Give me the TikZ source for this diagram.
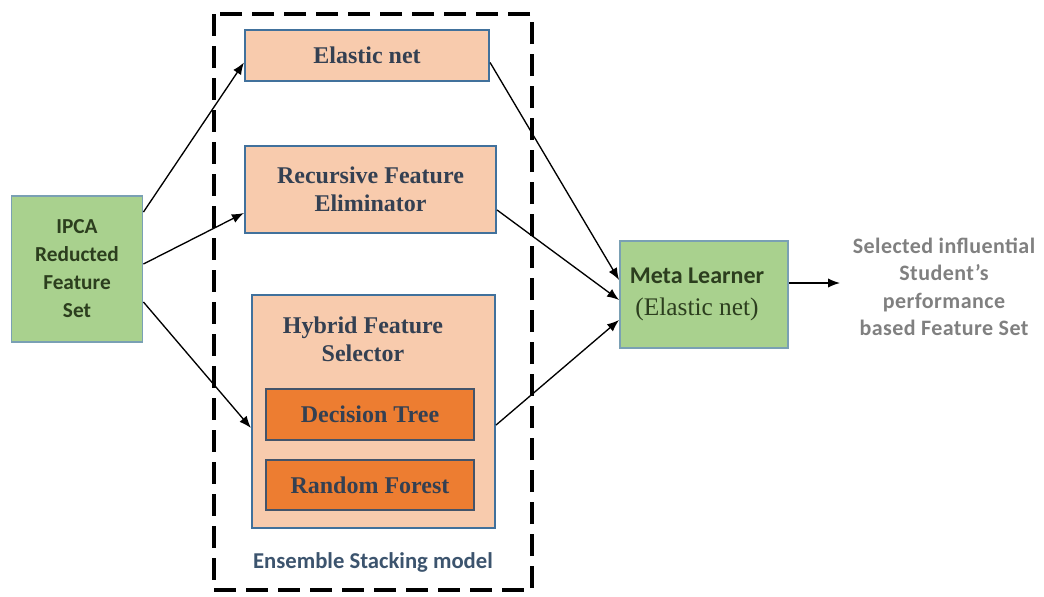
\documentclass[tikz,border=0pt]{standalone}
\usepackage{fontspec}
\setmainfont{Liberation Serif}
\newfontfamily\calib{Carlito}
\usetikzlibrary{arrows.meta,calc}

\definecolor{peach}{RGB}{248,203,173}
\definecolor{deeporange}{RGB}{237,125,49}
\definecolor{leafgreen}{RGB}{169,209,142}
\definecolor{boxblue}{RGB}{65,113,156}
\definecolor{slateline}{RGB}{68,84,106}
\definecolor{greenline}{RGB}{122,160,180}
\definecolor{slatetext}{RGB}{52,64,82}
\definecolor{darkgreen}{RGB}{44,62,30}
\definecolor{labelblue}{RGB}{60,84,110}
\definecolor{outgray}{RGB}{128,128,128}

\begin{document}
\begin{tikzpicture}[x=0.75pt,y=0.75pt,yscale=-1,xscale=1,
	peachbox/.style={draw=boxblue,line width=1.6pt,fill=peach,inner sep=0pt,align=center,text=slatetext,font=\fontsize{18}{21}\selectfont\bfseries},
	orangebox/.style={draw=slateline,line width=2pt,fill=deeporange,inner sep=0pt,align=center,text=slatetext,font=\fontsize{18}{21}\selectfont\bfseries},
	greenbox/.style={draw=greenline,line width=1.4pt,fill=leafgreen,inner sep=0pt,align=center},
	arr/.style={-{Latex[length=9pt,width=7pt]},line width=1pt,black},
	]
	\useasboundingbox (0,0) rectangle (1044,596);
	
	%ensemble frame
	\draw [line width=3pt,dash pattern=on 16.5pt off 7.5pt] (214,14) rectangle (532,590);
	\node [text=labelblue,font=\calib\fontsize{17}{20}\selectfont\bfseries] (ensemble) at (373,562) {Ensemble Stacking model};
	
	\node [greenbox,minimum width=98.25pt,minimum height=109.5pt,text=darkgreen,font=\calib\fontsize{16}{21}\selectfont\bfseries] (ipca) at (77,269) {IPCA\\Reducted\\Feature\\Set};
	
	\node [peachbox,minimum width=183pt,minimum height=38.25pt] (elastic) at (367,55.5) {Elastic net};
	\node [peachbox,minimum width=188.25pt,minimum height=65.25pt] (rfe) at (370.5,189.5) {Recursive Feature\\Eliminator};
	\node [peachbox,minimum width=182.25pt,minimum height=174.75pt] (hybrid) at (373.5,411.5) {};
	\node [text=slatetext,align=center,font=\fontsize{18}{21}\selectfont\bfseries] (hybridlabel) at (363,339) {Hybrid Feature\\Selector};
	\node [orangebox,minimum width=156pt,minimum height=38.25pt] (dtree) at (370,414.5) {Decision Tree};
	\node [orangebox,minimum width=156pt,minimum height=37.5pt] (rforest) at (370,485) {Random Forest};
	
	\node [greenbox,minimum width=126pt,minimum height=80.25pt] (meta) at (704,294.5) {};
	\node [align=center,text=darkgreen,font=\fontsize{18}{24}\selectfont] (metalabel) at (697,294) {{\calib\bfseries Meta Learner}\\{\fontsize{19}{24}\selectfont (Elastic net)}};
	
	\node [align=center,text=outgray,font=\calib\addfontfeatures{LetterSpace=2}\fontsize{16.5}{20.6}\selectfont\bfseries] (result) at (944,287) {Selected influential\\Student’s\\performance\\based Feature Set};
	\coordinate (outtip) at (840,283);
	
	\draw [arr] ($(ipca.north east)+(0,17)$) -- ($(elastic.west)+(0,7)$);
	\draw [arr] ($(ipca.east)+(0,-5)$) -- ($(rfe.west)+(0,23.5)$);
	\draw [arr] ($(ipca.east)+(0,33)$) -- ($(hybrid.west)+(0,16.5)$);
	\draw [arr] ($(elastic.east)+(0,7)$) -- ($(meta.west)+(0,-14.5)$);
	\draw [arr] ($(rfe.east)+(0,20.5)$) -- ($(meta.west)+(0,5.5)$);
	\draw [arr] ($(hybrid.east)+(0,13.5)$) -- ($(meta.west)+(0,25.5)$);
	\draw [arr] ($(meta.east)+(0,-11.5)$) -- (outtip);
	
\end{tikzpicture}
\end{document}
